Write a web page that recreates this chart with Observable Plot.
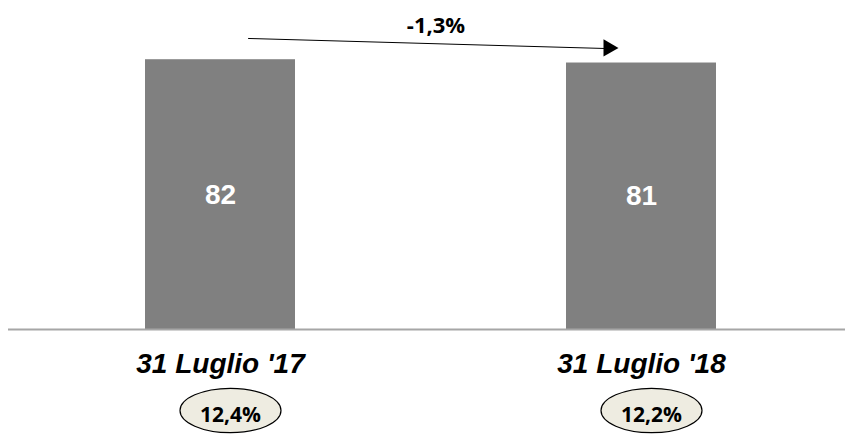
<!DOCTYPE html>
<html><head><meta charset="utf-8">
<script src="https://cdn.jsdelivr.net/npm/d3@7"></script>
<script src="https://cdn.jsdelivr.net/npm/@observablehq/plot@0.6"></script>
<style>body{margin:0;background:#fff}</style>
</head><body><div id="chart"></div>
<script>
// Data
const categories = ["31 Luglio '17", "31 Luglio '18"];
const values = [82, 81];
const shares = ["12,4%", "12,2%"];
const changeLabel = "-1,3%";
const arrowLevels = [88.7, 85.1]; // arrow height (value units) at start / end

const bars = categories.map((c, i) => ({cat: c, value: values[i], share: shares[i]}));

// custom ellipse symbol
const ellipse = {
  draw(ctx, size) {
    const rx = Math.sqrt(size / Math.PI), ry = rx * 0.44, k = 0.5523;
    ctx.moveTo(rx, 0);
    ctx.bezierCurveTo(rx, ry * k, rx * k, ry, 0, ry);
    ctx.bezierCurveTo(-rx * k, ry, -rx, ry * k, -rx, 0);
    ctx.bezierCurveTo(-rx, -ry * k, -rx * k, -ry, 0, -ry);
    ctx.bezierCurveTo(rx * k, -ry, rx, -ry * k, rx, 0);
    ctx.closePath();
  }
};

const chart = Plot.plot({
  width: 845,
  height: 434,
  marginLeft: 8,
  marginRight: 0,
  marginTop: 0,
  marginBottom: 105,
  x: {domain: categories, paddingInner: 0.6437, paddingOuter: 0.3159, align: 0.515},
  y: {domain: [0, 100], axis: null},
  style: {fontFamily: "'Liberation Sans', Arial, sans-serif", background: "white", overflow: "visible"},
  marks: [
    Plot.barY(bars, {x: "cat", y: "value", fill: "#808080"}),
    Plot.ruleY([0], {stroke: "#a6a6a6", strokeWidth: 2}),
    Plot.text(bars, {x: "cat", y: d => d.value / 2, text: d => String(d.value), fill: "white", fontSize: 28, fontWeight: "bold"}),
    Plot.axisX({tickSize: 0, tickPadding: 24, fontSize: 28, fontWeight: "bold", fontStyle: "italic", label: null, fill: "black"}),
    Plot.arrow([0], {
      x1: () => categories[0], x2: () => categories[1],
      y1: () => arrowLevels[0], y2: () => arrowLevels[1],
      insetStart: 28, insetEnd: 37, headLength: 0, stroke: "black", strokeWidth: 1
    }),
    Plot.dot([categories[1]], {x: d => d, y: () => 85.6, symbol: "triangle", rotate: 90, r: 6.43, fill: "black", dx: -33}),
    Plot.text([changeLabel], {frameAnchor: "top", dy: 25, dx: 9, fontSize: 22, fontWeight: "bold", fontFamily: "'Open Sans', sans-serif", lineAnchor: "middle", fill: "black"}),
    Plot.dot(bars, {x: "cat", frameAnchor: "bottom", dy: 81, dx: 10, r: 50.5, symbol: ellipse, fill: "#eeece1", stroke: "black", strokeWidth: 1.2}),
    Plot.text(bars, {x: "cat", text: "share", frameAnchor: "bottom", dy: 85.5, dx: 10, fontFamily: "'Open Sans', sans-serif", fontWeight: "bold", fontSize: 21, lineAnchor: "middle", fill: "black"})
  ]
});
document.getElementById("chart").appendChild(chart);
</script>
</body></html>
